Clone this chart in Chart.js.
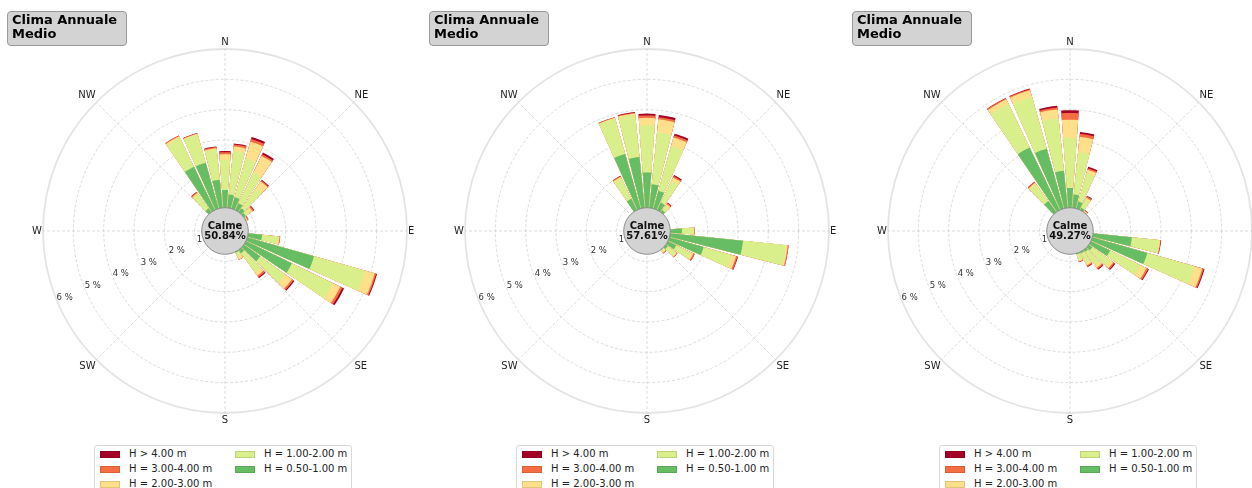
<!DOCTYPE html>
<html>
<head>
<meta charset="utf-8">
<script src="https://cdn.jsdelivr.net/npm/chart.js@4.4.1/dist/chart.umd.min.js"></script>
<style>
  html, body { margin: 0; padding: 0; background: #fff; overflow: hidden; }
  #page { position: relative; width: 1252px; height: 488px; overflow: hidden; font-family: "DejaVu Sans", sans-serif; }
  canvas { position: absolute; top: 0; }
  .title { position: absolute; top: 11px; width: 120px; height: 35px; box-sizing: border-box;
           background: #d3d3d3; border: 1px solid #999; border-radius: 4px; padding: 1px 0 0 4px;
           font-weight: bold; font-size: 13px; line-height: 14.3px; color: #000; }
  .legend { position: absolute; top: 445px; width: 258px; height: 60px; box-sizing: border-box;
            border: 1px solid #d8d8d8; border-radius: 3px; background: #fff; }
  .sw { position: absolute; width: 20px; height: 7px; box-sizing: border-box; border: 1px solid rgba(0,0,0,0.12); }
  .lt { position: absolute; font-size: 10px; line-height: 12px; color: #222; white-space: nowrap; }
</style>
</head>
<body>
<div id="page"></div>
<script>
// wave directions, degrees from north (one bar each)
const directions = [0, 10, 20, 30, 40, 50, 60, 70, 80, 90, 100, 110,
                    120, 130, 140, 150, 160, 170, 180, 190, 200, 210, 220, 230,
                    240, 250, 260, 270, 280, 290, 300, 310, 320, 330, 340, 350];
const compass = ['N', 'NE', 'E', 'SE', 'S', 'SW', 'W', 'NW'];
const titleLines = ['Clima Annuale', 'Medio'];
const calmLabel = 'Calme';
const calmValues = [50.84, 57.61, 49.27];

// classes from lowest to highest (stack order, inside -> out)
const classLabels = ['H = 0.50-1.00 m', 'H = 1.00-2.00 m', 'H = 2.00-3.00 m', 'H = 3.00-4.00 m', 'H > 4.00 m'];
const classColors = ['#66bd63', '#d9ef8b', '#fee08b', '#f46d43', '#a50026'];

// frequency (%) per direction and height class -- panel 1
const p1_h050 = [1.35, 1.21, 1.16, 1.02, 0.92, 0.85, 0.78, 0, 0, 0, 1.23, 3.05,
                 2.45, 1.43, 0.90, 0.80, 0, 0, 0, 0, 0, 0, 0, 0,
                 0, 0, 0, 0, 0, 0, 0, 0, 0.92, 2.35, 2.34, 1.70];
const p1_h100 = [0.99, 1.44, 1.33, 1.13, 0.82, 0.15, 0.02, 0, 0, 0, 0.53, 1.75,
                 1.50, 1.02, 0.80, 0.15, 0, 0, 0, 0, 0, 0, 0, 0,
                 0, 0, 0, 0, 0, 0, 0, 0, 0.56, 1.06, 0.96, 1.00];
const p1_h200 = [0.19, 0.15, 0.57, 0.60, 0.27, 0.12, 0.02, 0, 0, 0, 0.05, 0.33,
                 0.27, 0.27, 0.12, 0.10, 0, 0, 0, 0, 0, 0, 0, 0,
                 0, 0, 0, 0, 0, 0, 0, 0, 0.07, 0.06, 0.03, 0.04];
const p1_h300 = [0.07, 0.07, 0.09, 0.06, 0.04, 0.05, 0.03, 0, 0, 0, 0.02, 0.05,
                 0.08, 0.06, 0.06, 0.01, 0, 0, 0, 0, 0, 0, 0, 0,
                 0, 0, 0, 0, 0, 0, 0, 0, 0.04, 0.03, 0.02, 0.04];
const p1_h400 = [0.04, 0.03, 0.07, 0.06, 0.03, 0.02, 0.01, 0, 0, 0, 0, 0.03,
                 0.06, 0.04, 0.04, 0, 0, 0, 0, 0, 0, 0, 0, 0,
                 0, 0, 0, 0, 0, 0, 0, 0, 0.01, 0, 0.01, 0.02];

// panel 2
const p2_h050 = [1.93, 1.55, 1.38, 1.04, 0.85, 0, 0, 0, 0, 1.15, 3.18, 1.94,
                 1.07, 0.85, 0.78, 0, 0, 0, 0, 0, 0, 0, 0, 0,
                 0, 0, 0, 0, 0, 0, 0, 0, 0, 1.18, 2.64, 2.45];
const p2_h100 = [1.55, 1.72, 1.53, 0.81, 0.17, 0, 0, 0, 0, 0.40, 1.42, 0.96,
                 0.55, 0.33, 0.07, 0, 0, 0, 0, 0, 0, 0, 0, 0,
                 0, 0, 0, 0, 0, 0, 0, 0, 0, 0.74, 1.21, 1.40];
const p2_h200 = [0.25, 0.43, 0.29, 0.11, 0.08, 0, 0, 0, 0, 0.01, 0.06, 0.15,
                 0.08, 0.04, 0.04, 0, 0, 0, 0, 0, 0, 0, 0, 0,
                 0, 0, 0, 0, 0, 0, 0, 0, 0, 0.06, 0.03, 0.04];
const p2_h300 = [0.08, 0.07, 0.07, 0.05, 0.04, 0, 0, 0, 0, 0.01, 0.03, 0.05,
                 0.04, 0.02, 0.02, 0, 0, 0, 0, 0, 0, 0, 0, 0,
                 0, 0, 0, 0, 0, 0, 0, 0, 0, 0.03, 0.02, 0.03];
const p2_h400 = [0.06, 0.07, 0.06, 0.04, 0.02, 0, 0, 0, 0, 0, 0, 0.02,
                 0.01, 0, 0, 0, 0, 0, 0, 0, 0, 0, 0, 0,
                 0, 0, 0, 0, 0, 0, 0, 0, 0, 0.01, 0, 0.02];

// panel 3
const p3_h050 = [1.42, 1.21, 1.01, 0.85, 0.78, 0, 0, 0, 0, 0, 2.05, 2.65,
                 1.47, 0.91, 0.85, 0.82, 0.80, 0, 0, 0, 0, 0, 0, 0,
                 0, 0, 0, 0, 0, 0, 0, 0, 1.22, 3.06, 2.82, 2.00];
const p3_h100 = [1.65, 1.41, 0.97, 0.30, 0.02, 0, 0, 0, 0, 0, 0.90, 1.61,
                 1.10, 0.74, 0.55, 0.36, 0.18, 0, 0, 0, 0, 0, 0, 0,
                 0, 0, 0, 0, 0, 0, 0, 0, 0.66, 1.59, 1.78, 1.74];
const p3_h200 = [0.60, 0.50, 0.12, 0.07, 0.02, 0, 0, 0, 0, 0, 0.04, 0.27,
                 0.23, 0.11, 0.10, 0.08, 0.06, 0, 0, 0, 0, 0, 0, 0,
                 0, 0, 0, 0, 0, 0, 0, 0, 0.08, 0.17, 0.22, 0.29];
const p3_h300 = [0.22, 0.10, 0.05, 0.05, 0.02, 0, 0, 0, 0, 0, 0.02, 0.05,
                 0.06, 0.05, 0.05, 0.04, 0.02, 0, 0, 0, 0, 0, 0, 0,
                 0, 0, 0, 0, 0, 0, 0, 0, 0.03, 0.04, 0.04, 0.06];
const p3_h400 = [0.09, 0.06, 0.05, 0.02, 0.01, 0, 0, 0, 0, 0, 0.01, 0.03,
                 0.03, 0.03, 0.03, 0.02, 0.01, 0, 0, 0, 0, 0, 0, 0,
                 0, 0, 0, 0, 0, 0, 0, 0, 0.01, 0.01, 0.02, 0.06];

const panelClasses = [
  [p1_h050, p1_h100, p1_h200, p1_h300, p1_h400],
  [p2_h050, p2_h100, p2_h200, p2_h300, p2_h400],
  [p3_h050, p3_h100, p3_h200, p3_h300, p3_h400]
];

// layout
const panelCenters = [225, 647, 1070];
const SECTOR = 360 / directions.length;
const BAR_DEG = 8.4;
const GAP_DEG = SECTOR - BAR_DEG;

Chart.defaults.font.family = '"DejaVu Sans", sans-serif';

// one polar ring of bars: north bar split in two halves so that the
// compass labels / angle lines stay on 0, 45, 90 ... degrees
function sectorRing(values) {
  const data = [values[0]];
  const angles = [BAR_DEG / 2];
  for (let i = 1; i < values.length; i++) {
    data.push(0, values[i]);
    angles.push(GAP_DEG, BAR_DEG);
  }
  data.push(0, values[0]);
  angles.push(GAP_DEG, BAR_DEG / 2);
  return { data, angles };
}

const calmPlugin = {
  id: 'calm',
  afterDatasetsDraw(chart, args, opts) {
    const r = chart.scales.r;
    const ctx = chart.ctx;
    const a = (247.5 - 90) * Math.PI / 180;
    ctx.save();
    ctx.font = '8.5px "DejaVu Sans"';
    ctx.fillStyle = '#333';
    ctx.textAlign = 'center';
    ctx.textBaseline = 'middle';
    r.ticks.forEach(t => {
      if (t.value <= 0) return;
      const d = r.getDistanceFromCenterForValue(t.value) - 8.5;
      ctx.fillText(t.label, r.xCenter + Math.cos(a) * d, r.yCenter + Math.sin(a) * d);
    });
    ctx.beginPath();
    ctx.arc(r.xCenter, r.yCenter, 23.3, 0, Math.PI * 2);
    ctx.fillStyle = '#d3d3d3';
    ctx.fill();
    ctx.lineWidth = 1;
    ctx.strokeStyle = '#8c8c8c';
    ctx.stroke();
    ctx.fillStyle = '#111';
    ctx.font = 'bold 10px "DejaVu Sans"';
    ctx.fillText(calmLabel, r.xCenter, r.yCenter - 5);
    ctx.fillText(opts.value.toFixed(2) + '%', r.xCenter, r.yCenter + 5.5);
    ctx.restore();
  }
};

const page = document.getElementById('page');

panelClasses.forEach((classes, p) => {
  const cx = panelCenters[p];

  const canvas = document.createElement('canvas');
  canvas.width = 400;
  canvas.height = 488;
  canvas.style.left = (cx - 201) + 'px';
  page.appendChild(canvas);

  // cumulative stacks, drawn largest first (dataset 0 ends up on top)
  const datasets = [];
  let running = directions.map(() => 0);
  classes.forEach((vals, k) => {
    running = running.map((v, i) => v + vals[i]);
    const ring = sectorRing(running);
    datasets.push({
      label: classLabels[k],
      data: ring.data,
      angle: (c) => ring.angles[c.dataIndex],
      backgroundColor: classColors[k],
      borderWidth: 0
    });
  });

  new Chart(canvas, {
    type: 'polarArea',
    data: { labels: compass, datasets: datasets },
    options: {
      responsive: false,
      animation: false,
      devicePixelRatio: 1,
      events: [],
      layout: { padding: { left: 5, right: 5, top: 36, bottom: 62 } },
      plugins: {
        legend: { display: false },
        tooltip: { enabled: false },
        calm: { value: calmValues[p] }
      },
      scales: {
        r: {
          min: 0,
          max: 6,
          startAngle: 0,
          ticks: { display: false, stepSize: 1, callback: (v) => v + ' %' },
          grid: {
            circular: true,
            color: (c) => c.tick && c.tick.value === 6 ? '#e4e4e4' : '#cdcdcd',
            lineWidth: (c) => c.tick && c.tick.value === 6 ? 1.8 : 0.7
          },
          border: { dash: (c) => c.tick && c.tick.value === 6 ? [] : [3, 2] },
          angleLines: { display: true, color: '#cdcdcd', lineWidth: 0.7, borderDash: [3, 2] },
          pointLabels: { display: true, padding: 1, color: '#222', font: { size: 10 } }
        }
      }
    },
    plugins: [calmPlugin]
  });

  // title box
  const title = document.createElement('div');
  title.className = 'title';
  title.style.left = (cx - 218) + 'px';
  title.innerHTML = titleLines.join('<br>');
  page.appendChild(title);

  // legend, two columns: >4, 3-4, 2-3 | 1-2, 0.5-1
  const legend = document.createElement('div');
  legend.className = 'legend';
  legend.style.left = (cx - 131) + 'px';
  [4, 3, 2, 1, 0].forEach((k, n) => {
    const col = n < 3 ? 0 : 1;
    const row = n < 3 ? n : n - 3;
    const sw = document.createElement('div');
    sw.className = 'sw';
    sw.style.left = (5 + col * 135) + 'px';
    sw.style.top = (8 + row * 15 - 3.5) + 'px';
    sw.style.background = classColors[k];
    legend.appendChild(sw);
    const lt = document.createElement('div');
    lt.className = 'lt';
    lt.style.left = (34 + col * 135) + 'px';
    lt.style.top = (8 + row * 15 - 6) + 'px';
    lt.textContent = classLabels[k];
    legend.appendChild(lt);
  });
  page.appendChild(legend);
});
</script>
</body>
</html>
